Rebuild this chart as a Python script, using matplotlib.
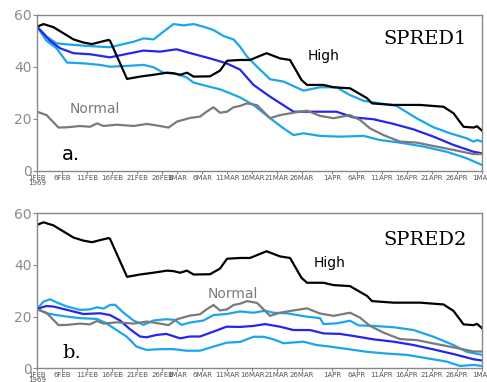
import matplotlib
matplotlib.use('Agg')
import matplotlib.pyplot as plt

# days since 1 FEB 1969
high_d = [0, 1.3, 3.3, 7.3, 9.3, 11, 12.6, 14.3, 14.6, 18, 20.6, 23.3, 26, 27.3, 28.6, 30, 31.3,
          34.6, 36.6, 38, 40.6, 42.6, 45.9, 48.6, 50.6, 52.9, 54, 57.3, 59.3, 62.6, 66, 67, 71.3,
          76.6, 81.3, 83.3, 85.3, 87.3, 88, 89]
high_v = [55.5, 56.5, 55.3, 50.6, 49.4, 48.8, 49.6, 50.4, 50.1, 35.4, 36.3, 37, 37.8, 37.6, 37,
          37.8, 36.3, 36.4, 38.6, 42.4, 42.7, 42.7, 45.3, 43.3, 42.7, 35, 33.1, 33.1, 32.2, 31.8,
          28, 26, 25.4, 25.4, 24.7, 22.2, 17, 16.7, 17.2, 15.5]

norm_d = [0, 1.9, 4.3, 6, 8.6, 10.6, 12, 13.3, 16, 19.3, 22, 24.6, 26.3, 28, 30.6, 32.6, 33.9,
          35.3, 36.6, 38, 39.3, 40.6, 42, 44, 45.3, 46.6, 48.6, 51.3, 54, 56.6, 59.3, 62.6, 64.6,
          66.6, 69.3, 72.6, 76, 79.3, 83.3, 87.3, 89]
norm_v = [22.8, 21.5, 16.7, 16.8, 17.3, 17, 18.3, 17.3, 17.8, 17.3, 18.1, 17.3, 16.7, 19, 20.4,
          20.9, 22.8, 24.5, 22.4, 22.8, 24.5, 25, 26, 25.3, 22.8, 20.3, 21.5, 22.4, 23.2, 21.2,
          20.3, 21.5, 19.6, 16.4, 13.8, 11.3, 10.9, 9.6, 8.1, 6.5, 6.5]

# SPRED1 members
a_up_d = [0, 1.9, 3.9, 6, 9.3, 12.6, 14.6, 16.6, 19.3, 21.3, 23.3, 25.3, 27.3, 29.3, 31.3, 33.3,
          35.3, 37.3, 39.3, 40.6, 42, 44, 46.6, 49.3, 53.3, 56.6, 59.9, 62.6, 65.3, 68.6, 71.9,
          75.9, 79.3, 82.6, 85.9, 87.3, 88, 89]
a_up_v = [55.5, 51.7, 49.1, 48.7, 48.2, 47.8, 47.6, 48.5, 49.7, 51, 50.6, 53.6, 56.5, 56, 56.5,
          55.5, 54.2, 51.9, 50.6, 47.8, 44, 40.1, 35.3, 34.4, 30.9, 32.2, 32.2, 29.2, 27, 26, 25,
          20.3, 16.8, 14.5, 12.6, 11.3, 11.9, 11.3]
a_mid_d = [0, 2.6, 4.6, 7.3, 10.6, 14.6, 17.9, 21.3, 24.6, 27.9, 31.3, 34.6, 37.9, 40.6, 43.3,
           46.6, 51.3, 55.3, 59.9, 63.3, 67.3, 71.3, 75.3, 79.3, 83.3, 87.3, 89]
a_mid_v = [55.5, 50.1, 47.2, 45.3, 44.9, 43.7, 45, 46.3, 45.9, 46.8, 45, 43.3, 41.4, 39, 33.1,
           28.6, 22.8, 22.8, 22.8, 20.6, 19.9, 18.1, 16, 13.2, 10, 7.4, 6.8]
a_lo_d = [0, 1.9, 3.9, 6, 9.3, 12.6, 14.6, 17.9, 21.3, 23.3, 25.3, 27.9, 29.9, 31.3, 33.9, 36.6,
          38.6, 40.6, 43.3, 46.6, 49.3, 51.3, 53.3, 56.6, 60.6, 65.3, 68.6, 72.6, 77.3, 81.9,
          85.9, 89]
a_lo_v = [55.5, 50.1, 47.2, 41.7, 41.4, 40.8, 40.1, 40.4, 40.8, 39.9, 37.8, 37.3, 36, 34, 32.7,
          31.4, 29.9, 28.3, 25.4, 20.3, 16.4, 13.8, 14.5, 13.5, 13.2, 13.5, 11.9, 10.9, 9.4, 7.4,
          4.9, 2.3]

# SPRED2 members
b_up_d = [0, 1.3, 2.6, 4.3, 6, 8.6, 10.6, 12, 13.3, 14.6, 15.6, 17.3, 19.3, 21.3, 23.3, 25.9,
          27.6, 28.9, 30.6, 33.3, 35.3, 37.9, 40.6, 43.3, 45.6, 47.3, 49.9, 53.9, 56.6, 57.3,
          59.9, 62.6, 64.3, 67.3, 71.3, 75.3, 79.3, 83.3, 85.9, 89]
b_up_v = [23, 25.8, 26.7, 25.2, 23.9, 22.6, 22.8, 23.6, 23.1, 24.5, 24.6, 21.5, 18.5, 16.8, 18.5,
          19, 18.7, 16.8, 17.7, 18.5, 20.6, 21, 22, 21.5, 22.3, 21.5, 21.3, 20, 19.4, 17.1, 17.4,
          18.4, 16.6, 16.4, 15.9, 14.8, 12.2, 9, 6.4, 5.2]
b_mid_d = [0, 1.9, 3.3, 6, 9.3, 12.6, 14.6, 16.6, 18.6, 20.6, 21.9, 23.9, 25.9, 28.6, 30.6, 32.6,
           35.3, 37.9, 40.6, 43.3, 45.6, 48.6, 51.3, 54.6, 57.3, 60.6, 63.3, 67.3, 71.3, 75.3,
           79.3, 83.3, 87.3, 89]
b_mid_v = [23, 24.1, 23.9, 22.6, 21, 21.3, 20.6, 18.5, 15.1, 12.3, 12, 12.9, 13.3, 11.6, 12.3,
           12.3, 14.2, 16.1, 16, 16.4, 17.1, 16.1, 14.8, 14.8, 13.5, 13.3, 12.5, 11.2, 10.3, 9,
           7.3, 5.5, 3.5, 3]
b_lo_d = [0, 1.9, 3.9, 6, 8.6, 12, 13.9, 15.9, 17.9, 19.9, 21.9, 24.6, 27.3, 29.9, 32.6, 35.3,
          37.9, 40.6, 43.3, 45.3, 47.3, 49.3, 53.3, 55.9, 58.6, 62.6, 65.9, 69.9, 73.9, 77.9,
          81.9, 84.6, 87.3, 89]
b_lo_v = [23, 21.3, 20.6, 20, 19.4, 19.1, 17.4, 14.8, 12.3, 8.4, 7.1, 7.4, 7.4, 6.8, 6.8, 8.4,
          9.9, 10.2, 12.2, 12.2, 11.2, 9.7, 10.3, 9, 8.4, 7.3, 6.4, 5.7, 5.2, 3.9, 2.6, 0.9, 1.3,
          0.9]

tick_days = [0, 5, 10, 15, 20, 25, 28, 33, 38, 43, 48, 53, 59, 64, 69, 74, 79, 84, 89]
tick_labels = ['1FEB\n1969', '6FEB', '11FEB', '16FEB', '21FEB', '26FEB', '1MAR', '6MAR', '11MAR',
               '16MAR', '21MAR', '26MAR', '1APR', '6APR', '11APR', '16APR', '21APR', '26APR', '1MAY']

BLACK = '#000000'
GRAY = '#7a7a7a'
CYAN = '#1aa6ec'
BLUE = '#2626ea'
FRAME = '#888888'

fig = plt.figure(figsize=(4.87, 3.82), dpi=100)
ax_a = fig.add_axes([0.076, 0.5524, 0.9138, 0.4084])
ax_b = fig.add_axes([0.076, 0.0359, 0.9138, 0.4058])


def fx(px):
    return px / 487


def fy(py):
    return 1 - py / 382


panels = [
    (ax_a, [(a_up_d, a_up_v), (a_lo_d, a_lo_v)], (a_mid_d, a_mid_v), 'SPRED1',
     (308, 56), (70, 109), 39),
    (ax_b, [(b_up_d, b_up_v), (b_lo_d, b_lo_v)], (b_mid_d, b_mid_v), 'SPRED2',
     (314, 263), (208, 294), 240),
]

for ax, cyans, mid, name, hi_xy, no_xy, sp_y in panels:
    for d, v in cyans:
        ax.plot(d, v, color=CYAN, lw=1.6)
    ax.plot(mid[0], mid[1], color=BLUE, lw=1.6)
    ax.plot(norm_d, norm_v, color=GRAY, lw=1.6)
    ax.plot(high_d, high_v, color=BLACK, lw=1.6)

    ax.set_xlim(0, 89)
    ax.set_ylim(0, 60)
    ax.set_yticks([0, 20, 40, 60])
    ax.set_xticks(tick_days)
    ax.set_xticklabels(tick_labels, fontsize=5, color='#555555', linespacing=0.8)
    ax.tick_params(axis='y', labelsize=10, labelcolor='#8c8c8c', length=3, width=0.8,
                   color=FRAME, pad=1)
    ax.tick_params(axis='x', length=2, width=0.8, color=FRAME, pad=1)
    for s in ax.spines.values():
        s.set_color(FRAME)
        s.set_linewidth(1.0)

    fig.text(fx(hi_xy[0]), fy(hi_xy[1]), 'High', fontsize=10, color=BLACK, va='center')
    fig.text(fx(no_xy[0]), fy(no_xy[1]), 'Normal', fontsize=10, color=GRAY, va='center')
    fig.text(fx(383), fy(sp_y), name, fontsize=14, family='DejaVu Serif',
             color=BLACK, va='center')

fig.text(fx(62), fy(155), 'a.', fontsize=14, color=BLACK, va='center')
fig.text(fx(62), fy(353), 'b.', fontsize=14, family='DejaVu Serif', color=BLACK, va='center')

fig.savefig('out.png', dpi=100)
